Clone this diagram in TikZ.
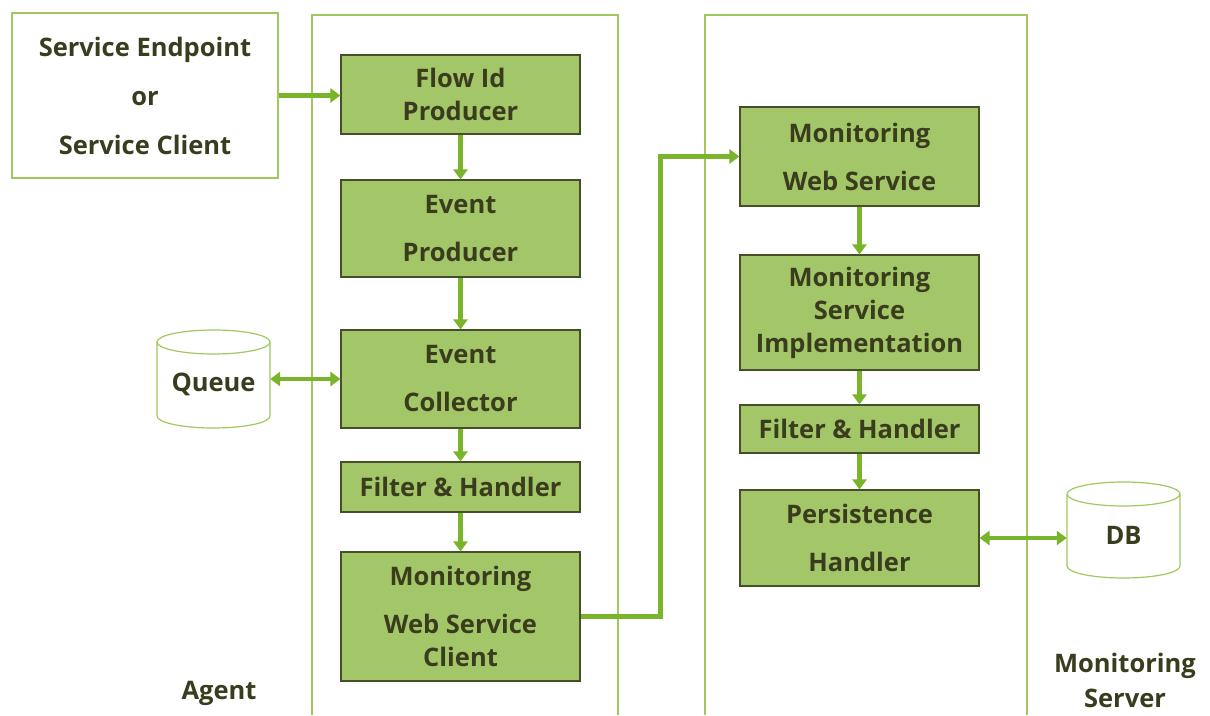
\documentclass[tikz,border=0pt]{standalone}
\usepackage{fontspec}
\setmainfont{Open Sans}
\usetikzlibrary{arrows.meta}
\definecolor{boxfill}{RGB}{163,198,104}
\definecolor{boxline}{RGB}{70,80,40}
\definecolor{frame}{RGB}{160,200,95}
\definecolor{arrowc}{RGB}{122,180,42}
\definecolor{textc}{RGB}{58,60,30}
\tikzset{
  box/.style={draw=boxline, line width=1.1pt, fill=boxfill, minimum width=239pt, align=center, inner sep=0pt, text=textc,
    font=\bfseries\fontsize{25.5}{33}\selectfont},
  outer/.style={draw=frame, line width=1.3pt, inner sep=0pt, align=center, text=textc,
    font=\bfseries\fontsize{25.5}{49}\selectfont},
  container/.style={draw=frame, line width=1.3pt},
  cylbox/.style={inner sep=0pt, text=textc, font=\bfseries\fontsize{25.5}{33}\selectfont},
  cyl/.style={draw=frame, line width=1.2pt, fill=white},
  lbl/.style={inner sep=0pt, align=center, text=textc, font=\bfseries\fontsize{25.5}{35}\selectfont},
  conn/.style={draw=arrowc, line width=4.5pt, -{Triangle[width=14pt,length=10pt]}},
  dconn/.style={draw=arrowc, line width=4.5pt, {Triangle[width=14pt,length=10pt]}-{Triangle[width=14pt,length=10pt]}}
}
\begin{document}
\begin{tikzpicture}[x=1pt,y=-1pt]
\useasboundingbox (0,0) rectangle (1210,715);
% containers
\draw[container] (312,715) -- (312,15) -- (618,15) -- (618,715);
\draw[container] (705,715) -- (705,15) -- (1027,15) -- (1027,715);
% outer source box
\node[outer, minimum width=266pt, minimum height=165pt] (svc) at (145,95.5) {Service Endpoint\\or\\Service Client};
% agent boxes
\node[box, minimum height=79pt] (flow) at (460.5,94.5) {Flow Id\\Producer};
\node[box, minimum height=97pt] (evp) at (460.5,228.5) {Event\\[15pt]Producer};
\node[box, minimum height=98pt] (col) at (460.5,379) {Event\\[15pt]Collector};
\node[box, minimum height=50pt] (fh1) at (460.5,487) {Filter \& Handler};
\node[box, minimum height=129pt] (cli) at (460.5,616.5) {Monitoring\\[15pt]Web Service\\Client};
% server boxes
\node[box, minimum height=99pt] (mws) at (859.5,156.5) {Monitoring\\[15pt]Web Service};
\node[box, minimum height=115pt] (msi) at (859.5,312.5) {Monitoring\\Service\\Implementation};
\node[box, minimum height=48pt] (fh2) at (859.5,429) {Filter \& Handler};
\node[box, minimum height=96pt] (per) at (859.5,538) {Persistence\\[15pt]Handler};
% cylinders
\draw[cyl] (157,342) -- (157,416) arc[start angle=180,end angle=360,x radius=56.5pt,y radius=12pt] -- (270,342);
\draw[cyl] (213.5,342) ellipse[x radius=56.5pt,y radius=12pt];
\node[cylbox, minimum width=113pt, minimum height=98pt] (queue) at (213.5,384) {Queue};
\draw[cyl] (1067,494) -- (1067,566) arc[start angle=180,end angle=360,x radius=56.5pt,y radius=12pt] -- (1180,494);
\draw[cyl] (1123.5,494) ellipse[x radius=56.5pt,y radius=12pt];
\node[cylbox, minimum width=113pt, minimum height=96pt] (db) at (1123.5,535) {DB};
% labels
\node[lbl] (agent) at (219,693) {Agent};
\node[lbl] (mserver) at (1125,680) {Monitoring\\Server};
% connectors
\draw[conn] (svc.east) -- (svc.east -| flow.west);
\draw[conn] (flow) -- (evp);
\draw[conn] (evp) -- (col);
\draw[conn] (col) -- (fh1);
\draw[conn] (fh1) -- (cli);
\draw[conn] (cli.east) -- ++(80,0) |- (mws.west);
\draw[conn] (mws) -- (msi);
\draw[conn] (msi) -- (fh2);
\draw[conn] (fh2) -- (per);
\draw[dconn] (queue.east |- col.west) -- (col.west);
\draw[dconn] (per.east) -- (per.east -| db.west);
\end{tikzpicture}
\end{document}
